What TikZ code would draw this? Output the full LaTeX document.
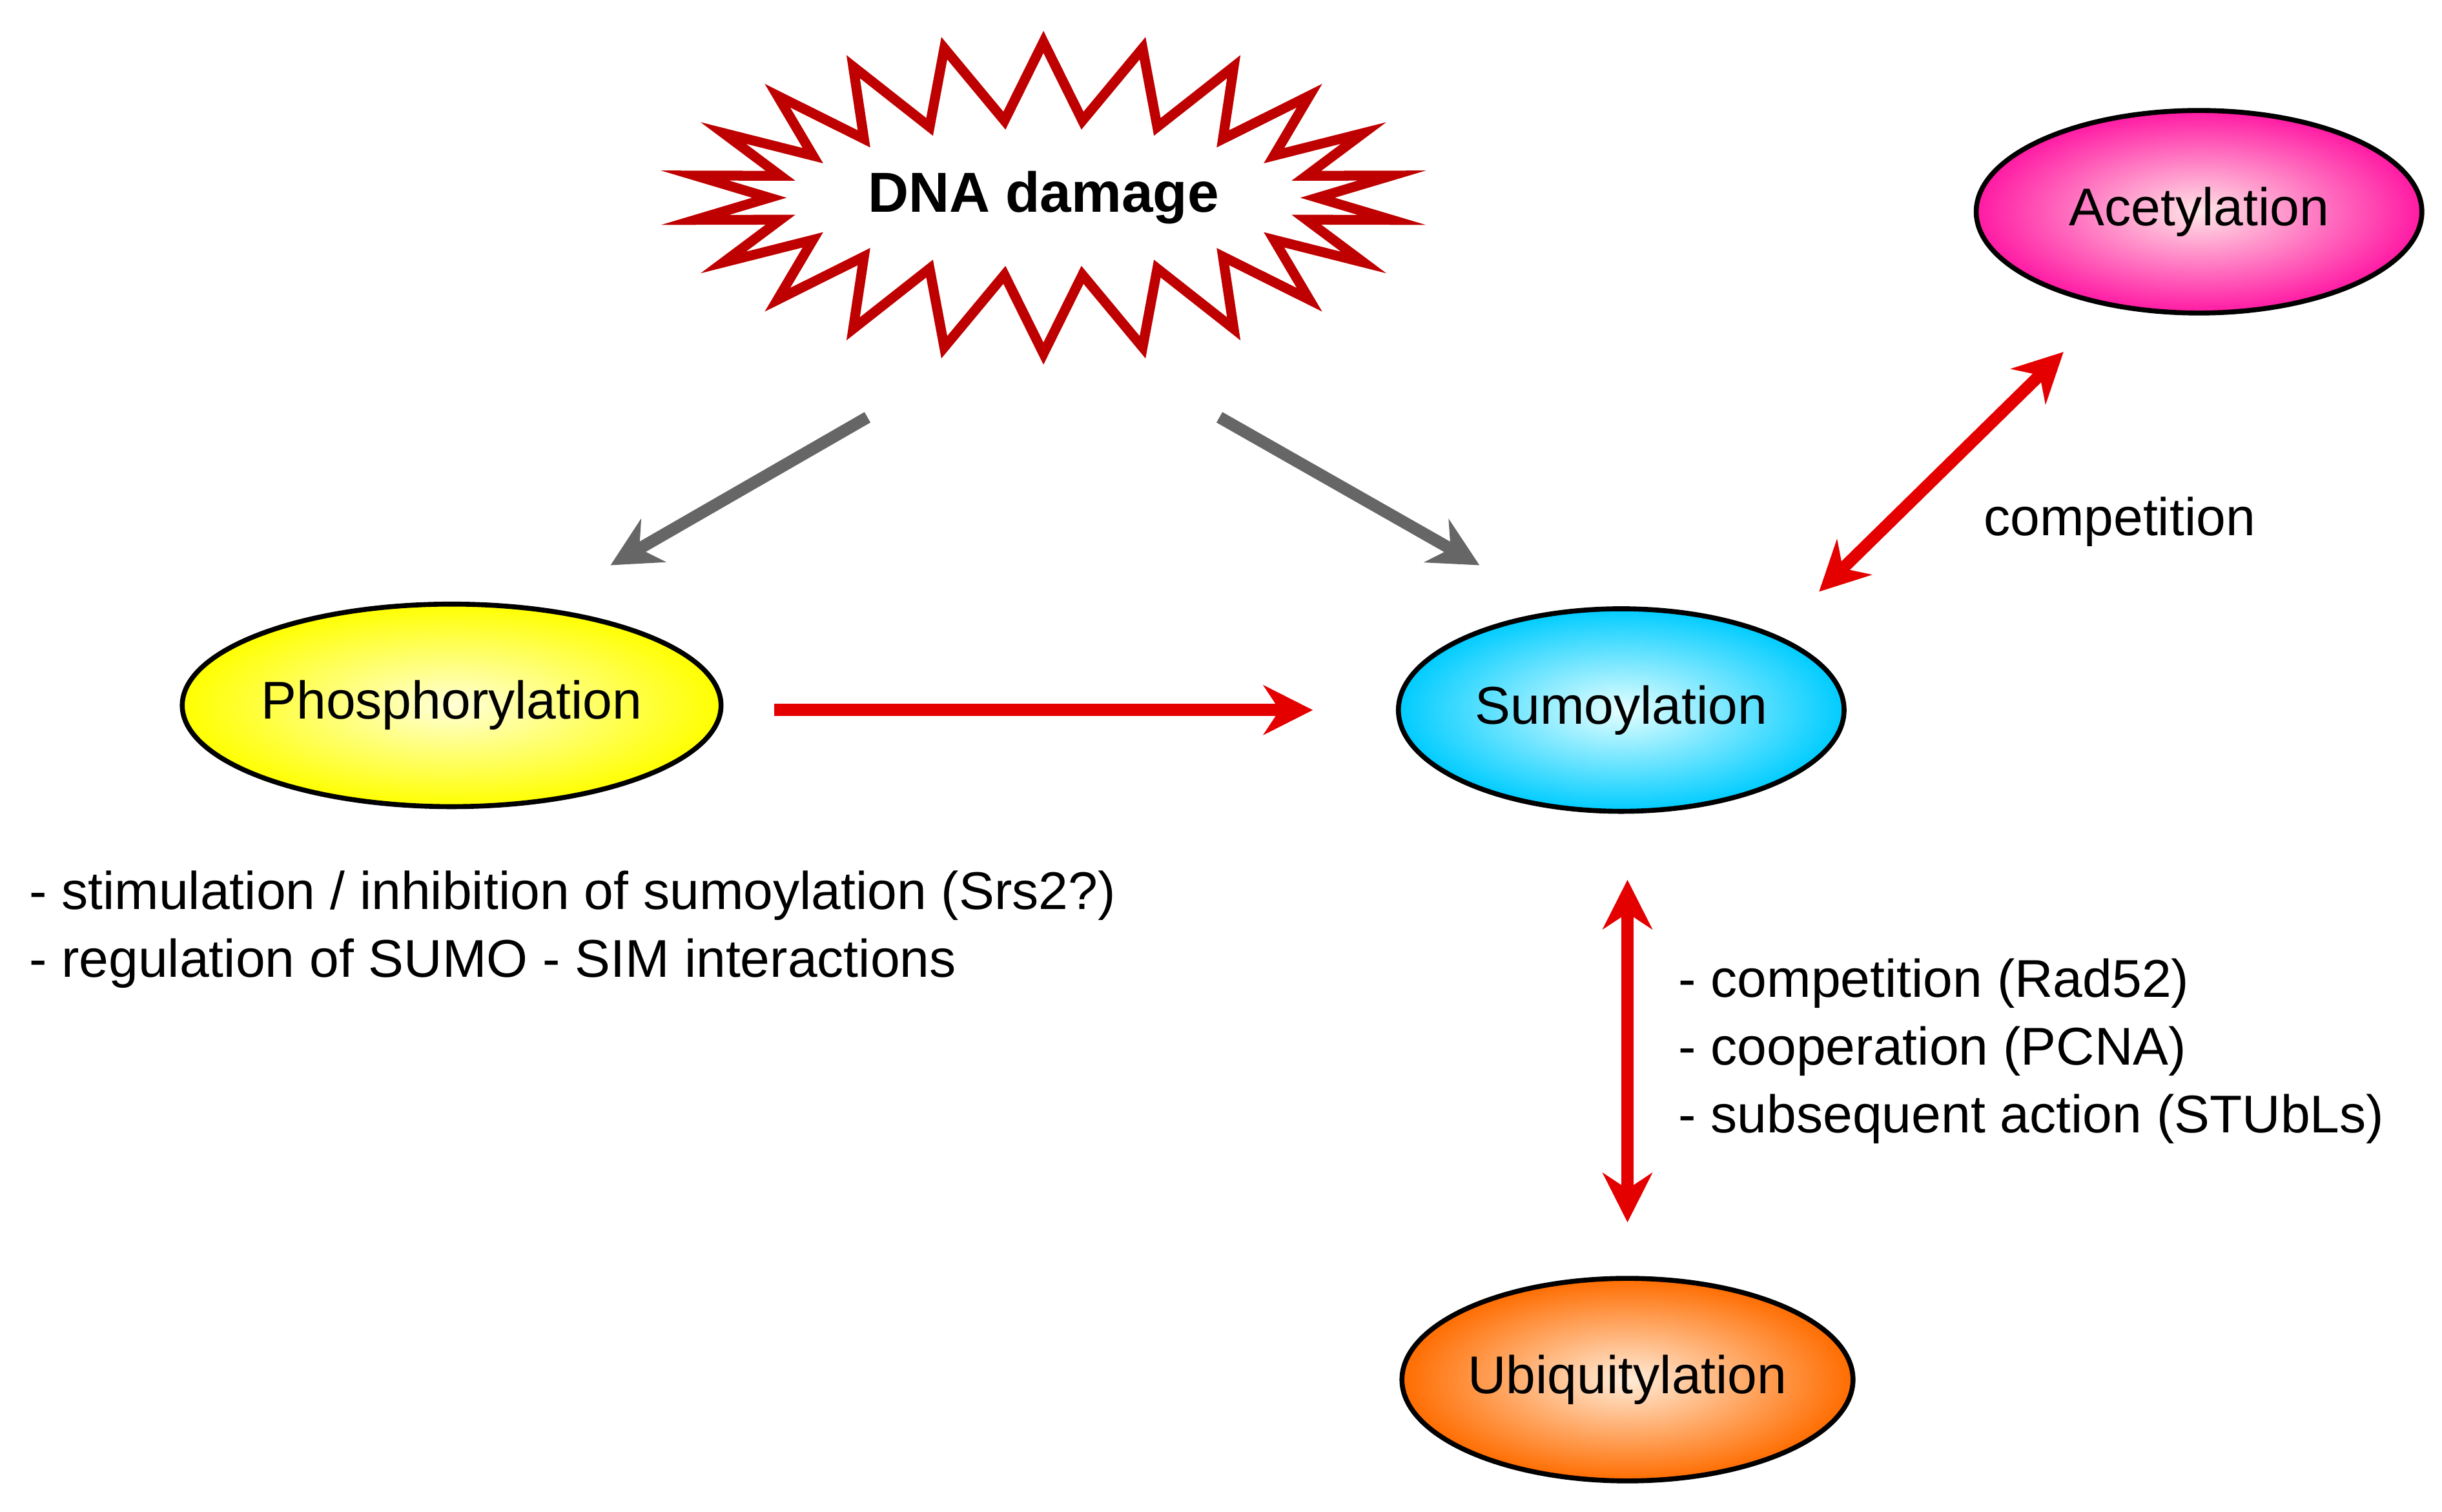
\documentclass[tikz,border=0pt]{standalone}
\usepackage{fontspec}
\setmainfont{Liberation Sans}
\usetikzlibrary{shapes.geometric,shapes.symbols,arrows.meta}

\tikzset{
  mod/.style={ellipse, draw=black, line width=0.9pt, minimum width=2.86cm, minimum height=1.3cm, inner sep=0pt},
  grayarrow/.style={draw=black!60, line width=2.2pt, -{Stealth[length=9pt,width=9pt]}},
  redarrow/.style={draw=red!90!black, line width=2.2pt, -{Stealth[length=9pt,width=9pt]}},
  redboth/.style={draw=red!90!black, line width=2.2pt, {Stealth[length=9pt,width=9pt]}-{Stealth[length=9pt,width=9pt]}},
  txt/.style={anchor=west, align=left, inner sep=0pt, font=\fontsize{9.7}{12.4}\selectfont}
}

\begin{document}
\begin{tikzpicture}[x=0.01cm, y=-0.01cm, font=\fontsize{9.7}{11}\selectfont]
	\useasboundingbox (0,0) rectangle (1568,971);
	% nodes
	\node[starburst, starburst points=22, starburst point height=0.5cm, random starburst=0,
	      draw=red!75!black, line width=1.8pt, fill=white, minimum width=2.9cm, minimum height=2.0cm,
	      font=\fontsize{10.3}{12}\selectfont\bfseries] (dna) at (670,127) {DNA damage};
	\node[mod, shading=radial, inner color=pink!40, outer color=magenta!60!red!90] (acet) at (1412,136) {Acetylation};
	\node[mod, minimum width=3.26cm, shading=radial, inner color=yellow!15, outer color=yellow] (phos) at (290,453) {Phosphorylation};
	\node[mod, shading=radial, inner color=cyan!10, outer color=cyan!80!blue] (sumo) at (1041,456) {Sumoylation};
	\node[mod, shading=radial, inner color=orange!15, outer color=orange!85!red] (ubiq) at (1045,886) {Ubiquitylation};
	% arrow ends
	\coordinate (d1) at (557,268); \coordinate (p1) at (392,363);
	\coordinate (d2) at (783,268); \coordinate (s1) at (950,363);
	\coordinate (p2) at (497,456); \coordinate (s2) at (843,456);
	\coordinate (s3) at (1168,380); \coordinate (a1) at (1325,226);
	\coordinate (s4) at (1045,565); \coordinate (u1) at (1045,785);
	% labels
	\node[txt] (comp) at (1273,335) {competition};
	\node[txt] (phtxt) at (18,597) {- stimulation / inhibition of sumoylation (Srs2?)\\- regulation of SUMO - SIM interactions};
	\node[txt] (ubtxt) at (1077,675) {- competition (Rad52)\\- cooperation (PCNA)\\- subsequent action (STUbLs)};
	% connectors
	\draw[grayarrow] (d1) -- (p1);
	\draw[grayarrow] (d2) -- (s1);
	\draw[redarrow] (p2) -- (s2);
	\draw[redboth] (s3) -- (a1);
	\draw[redboth] (s4) -- (u1);
\end{tikzpicture}
\end{document}
